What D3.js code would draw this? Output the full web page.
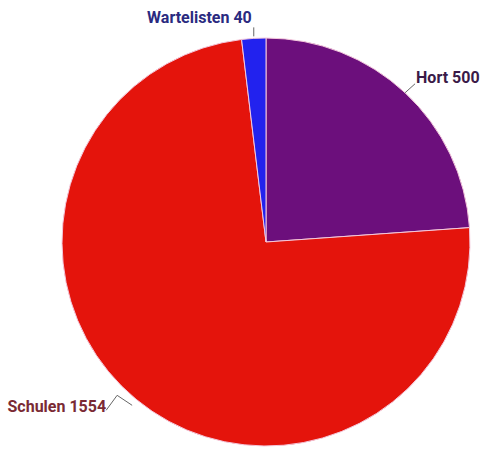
<!DOCTYPE html>
<html>
<head>
<meta charset="utf-8">
<script src="https://cdn.jsdelivr.net/npm/d3@7"></script>
<style>
body{margin:0;background:#fff;}
text{font-family:Roboto,"Noto Sans",sans-serif;font-weight:bold;}
</style>
</head>
<body>
<script>
var labels = ["Hort", "Schulen", "Wartelisten"];
var values = [500, 1554, 40];
var colors = ["#6c0f7c", "#e4140c", "#2222ee"];
var textColors = ["#3a1a48", "#7a2a34", "#2a2a80"];

var width = 500, height = 463;
var cx = 266, cy = 242, radius = 204;

var svg = d3.select("body")
			.append("svg")
			.attr("width", width)
			.attr("height", height);

var g = svg.append("g")
			.attr("transform", "translate(" + cx + "," + cy + ")");

var pie = d3.pie().sort(null).value(function(d){ return d; });
var arcs = pie(values);

var arc = d3.arc().innerRadius(0).outerRadius(radius);

g.selectAll("path.slice")
	.data(arcs)
	.enter().append("path")
	.attr("class", "slice")
	.attr("d", arc)
	.attr("fill", function(d, i){ return colors[i]; })
	.attr("stroke", "#f4c8dc")
	.attr("stroke-width", 1);

// point on the rim at the middle of a slice
var rim = function(d, r){
	var a = (d.startAngle + d.endAngle) / 2;
	return [Math.sin(a) * r, -Math.cos(a) * r];
};

// leader lines: bends relative to the rim point
var bends = [
	[[0, 0], [10, -9]],
	[[-4, 6], [-19, -4], [-30, 11]],
	[[0, -2], [0, -11]]
];
var anchors = ["start", "end", "end"];
var labelOffsets = [[11, -10], [-30, 13], [-2, -15]];

arcs.forEach(function(d, i){
	var p = rim(d, radius);
	var pts = bends[i].map(function(b){ return [p[0] + b[0], p[1] + b[1]]; });
	g.append("path")
		.attr("d", d3.line()(pts))
		.attr("fill", "none")
		.attr("stroke", "#666")
		.attr("stroke-width", 1);

	g.append("text")
		.text(labels[i] + " " + values[i])
		.attr("x", p[0] + labelOffsets[i][0])
		.attr("y", p[1] + labelOffsets[i][1])
		.attr("fill", textColors[i])
		.attr("font-size", 16)
		.attr("text-anchor", anchors[i]);
});
</script>
</body>
</html>
